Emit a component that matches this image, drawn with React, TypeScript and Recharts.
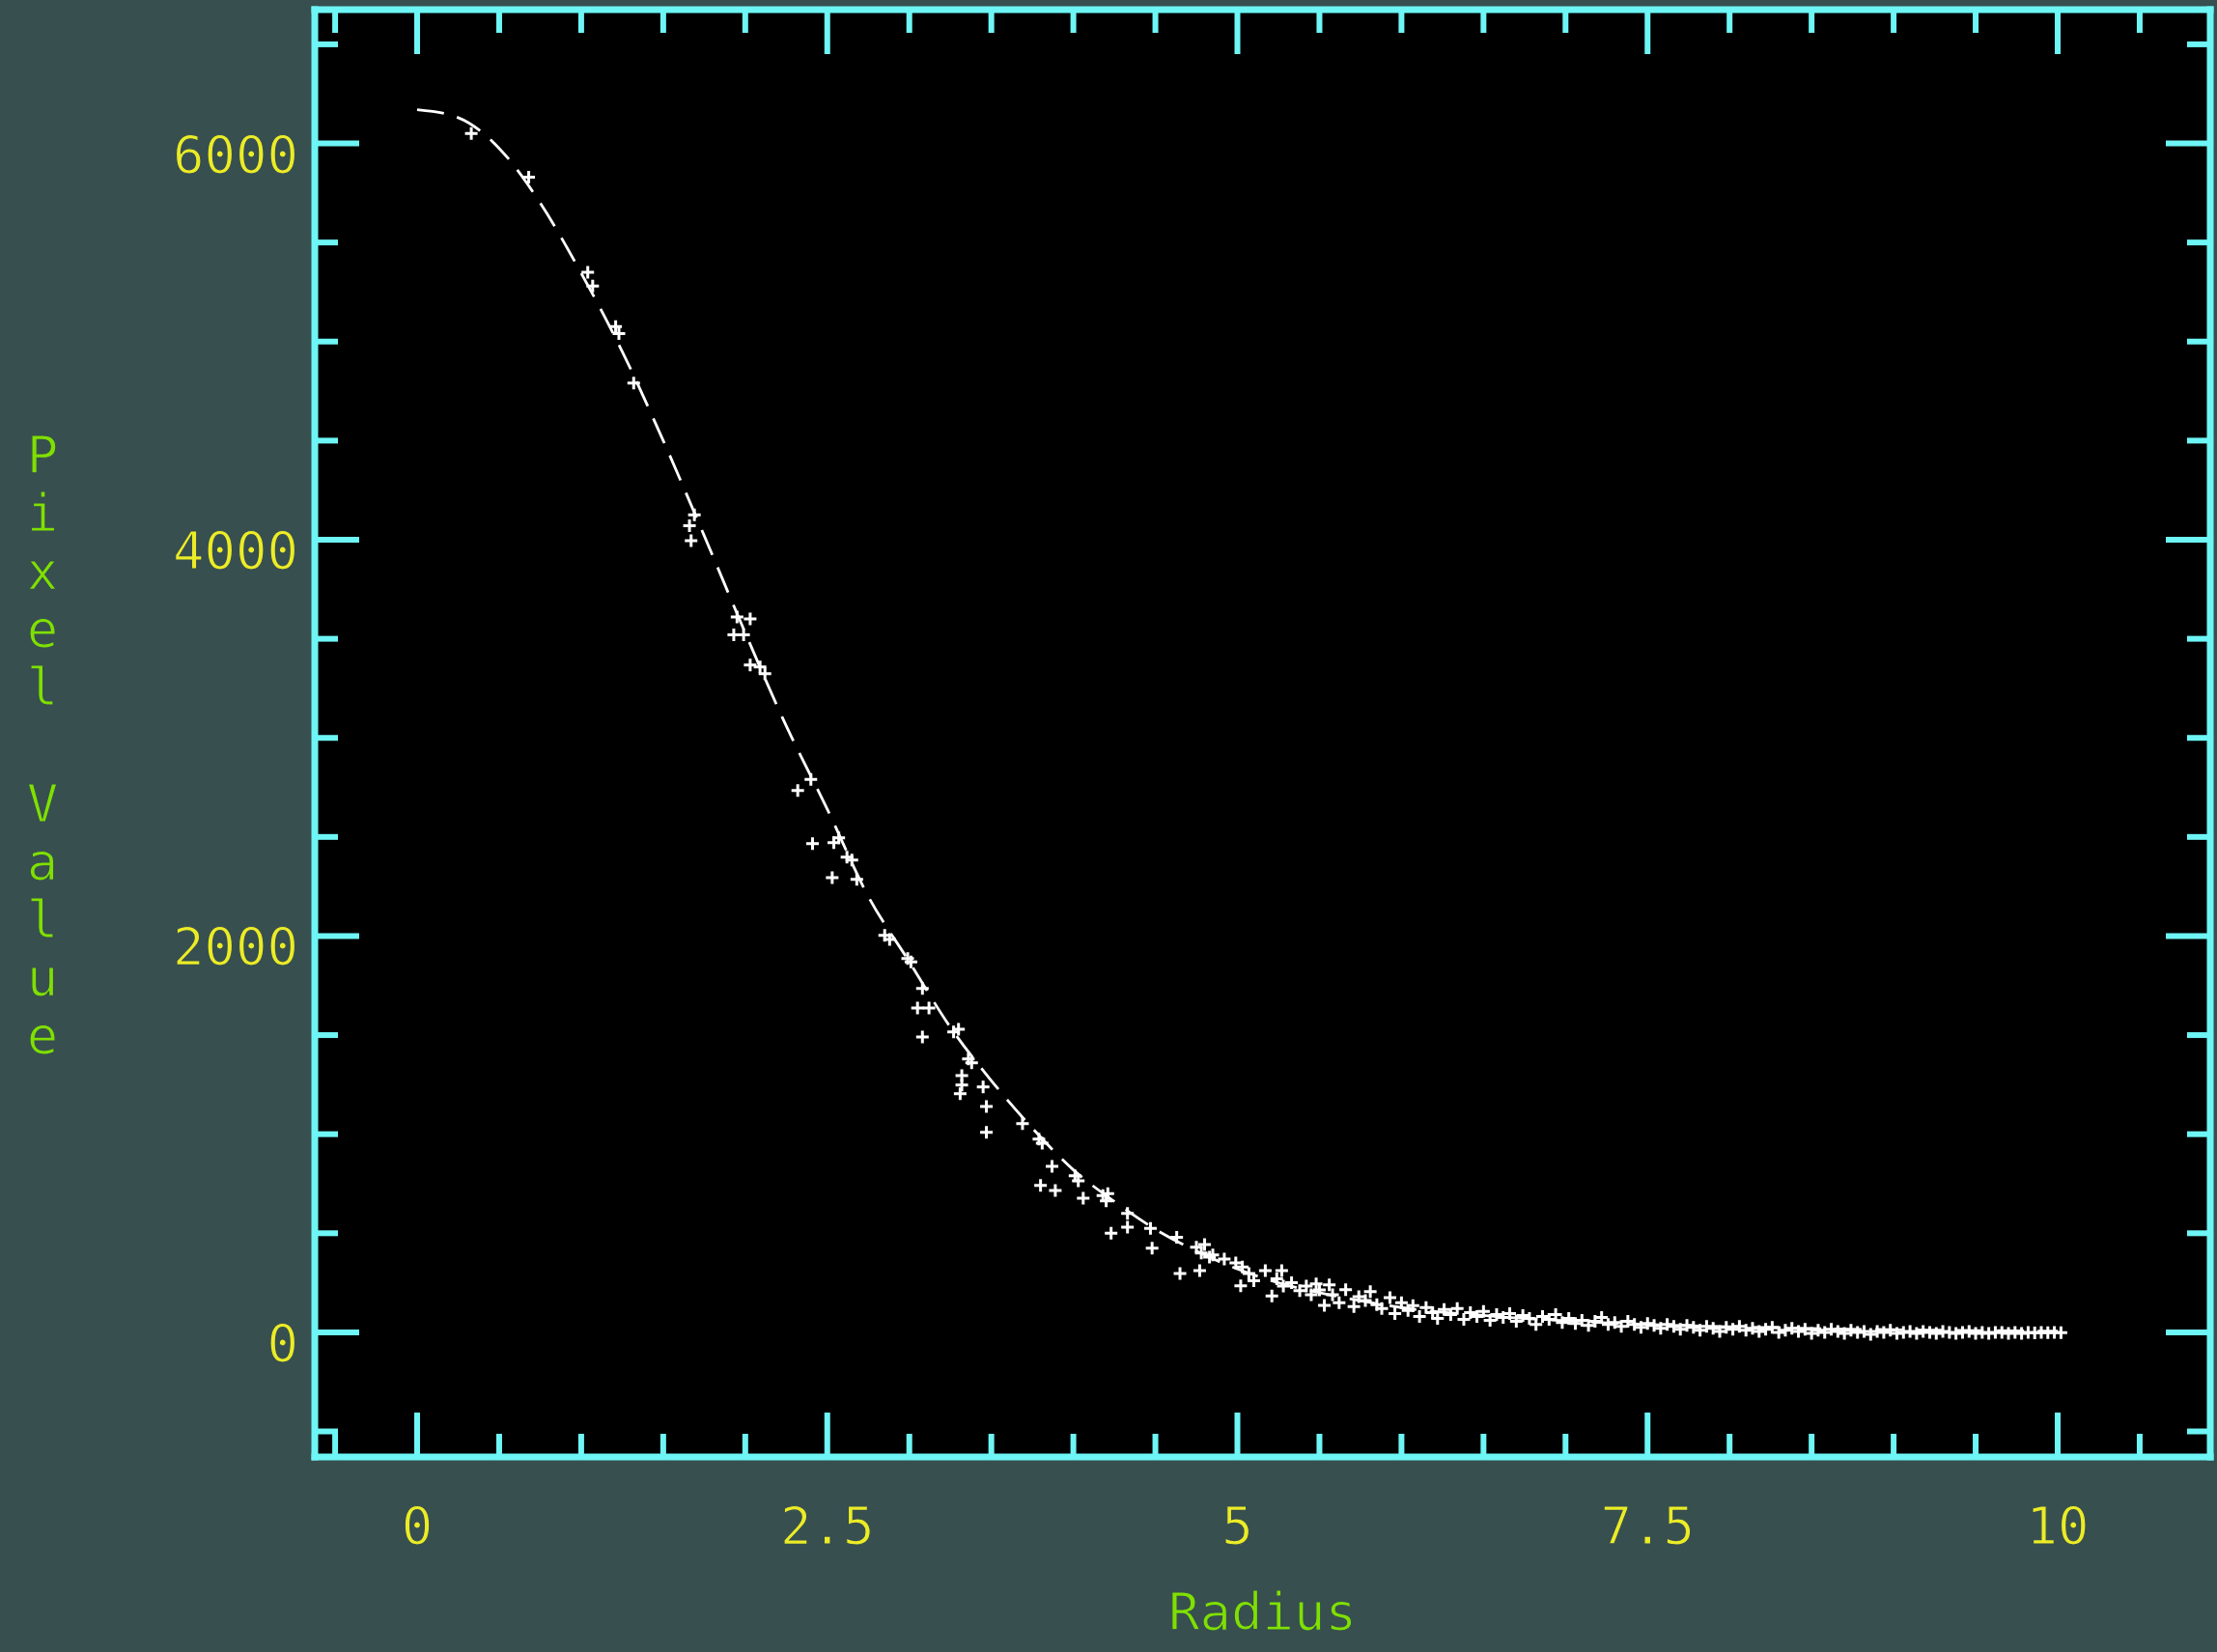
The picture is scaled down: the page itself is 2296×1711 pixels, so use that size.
import React from 'react';
import { ComposedChart, XAxis, YAxis, Line, Scatter, CartesianGrid, Label } from 'recharts';

// ---------- data ----------
const xTicks = [-0.5, 0, 0.5, 1, 1.5, 2, 2.5, 3, 3.5, 4, 4.5, 5, 5.5, 6, 6.5, 7, 7.5, 8, 8.5, 9, 9.5, 10, 10.5];
const xMajorTicks = [0, 2.5, 5, 7.5, 10];
const xTickLabels = ['0', '2.5', '5', '7.5', '10'];
const yTicks = [-500, 0, 500, 1000, 1500, 2000, 2500, 3000, 3500, 4000, 4500, 5000, 5500, 6000, 6500];
const yMajorTicks = [0, 2000, 4000, 6000];
const yTickLabels = ['0', '2000', '4000', '6000'];

const xTitle = 'Radius';
const yTitle = 'Pixel Value';

// fitted profile (radius, value)
const curveRadius = [0, 0.25, 0.5, 0.75, 1.0, 1.25, 1.5, 1.75, 2.0, 2.25, 2.5, 2.75, 3.0, 3.25, 3.5, 3.75, 4.0, 4.25, 4.5, 4.75, 5.0, 5.25, 5.5, 5.75, 6.0, 6.5, 7.0, 7.5, 8.0, 8.5, 9.0, 9.5, 10.0];
const curveValue = [6170, 6130, 5975, 5700, 5345, 4950, 4500, 4020, 3530, 3060, 2640, 2200, 1870, 1540, 1270, 1030, 820, 660, 520, 410, 320, 250, 200, 160, 125, 85, 58, 40, 28, 19, 13, 9, 6];

// measured pixels (radius, value)
const innerPoints: [number, number][] = [
  [0.33, 6050], [0.68, 5830], [1.04, 5350], [1.07, 5280], [1.21, 5075], [1.23, 5040], [1.32, 4790],
  [1.66, 4070], [1.67, 3995], [1.69, 4125], [1.95, 3610], [2.03, 3600], [1.93, 3520], [1.99, 3520],
  [2.03, 3368], [2.09, 3358], [2.12, 3324], [2.32, 2734], [2.40, 2790], [2.41, 2466], [2.54, 2471],
  [2.57, 2495], [2.62, 2398], [2.65, 2383], [2.53, 2295], [2.68, 2286], [2.85, 2003], [2.88, 1983],
  [2.99, 1886], [3.01, 1870], [3.08, 1735], [3.05, 1637], [3.12, 1637], [3.08, 1491],
];
const midPoints: [number, number][] = [
  [3.27, 1516], [3.30, 1530], [3.36, 1380], [3.38, 1360], [3.32, 1296], [3.32, 1248], [3.31, 1204],
  [3.45, 1238], [3.47, 1140], [3.47, 1009], [3.69, 1053], [3.79, 975], [3.81, 955], [3.87, 838],
  [3.80, 741], [3.89, 716], [4.01, 790], [4.03, 765], [4.06, 677], [4.18, 690], [4.20, 663],
  [4.21, 700], [4.33, 600], [4.33, 531], [4.23, 500], [4.47, 524], [4.48, 425], [4.63, 480],
  [4.65, 297], [4.75, 430], [4.77, 312], [4.78, 400], [4.80, 443], [4.83, 380], [4.85, 390],
  [4.92, 370], [4.99, 350], [5.03, 330], [5.02, 235], [5.07, 297], [5.10, 260], [5.17, 312],
  [5.21, 183], [5.24, 270], [5.27, 312], [5.28, 234], [5.33, 250], [5.38, 210], [5.42, 234],
  [5.45, 190], [5.50, 214], [5.53, 136], [5.56, 239], [5.48, 245],
];
const tailPoints: [number, number][] = [
  [5.58, 190], [5.62, 150], [5.66, 215], [5.71, 130], [5.74, 180], [5.78, 160], [5.81, 205], [5.85, 140],
  [5.88, 120], [5.93, 175], [5.96, 95], [6.00, 150], [6.04, 110], [6.07, 135], [6.11, 80], [6.15, 125],
  [6.19, 100], [6.22, 70], [6.26, 115], [6.30, 90], [6.34, 120], [6.38, 65], [6.42, 100], [6.46, 80],
  [6.50, 105], [6.54, 60], [6.58, 90], [6.62, 75], [6.66, 95], [6.70, 55], [6.74, 85], [6.78, 70],
  [6.82, 40], [6.86, 80], [6.90, 65], [6.94, 90], [6.98, 50], [7.02, 70], [7.06, 45], [7.10, 60],
  [7.14, 35], [7.18, 55], [7.22, 75], [7.26, 40], [7.30, 50], [7.34, 30], [7.38, 55], [7.42, 40],
  [7.46, 25], [7.50, 45], [7.54, 35], [7.58, 20], [7.62, 40], [7.66, 30], [7.70, 15], [7.74, 35],
  [7.78, 25], [7.82, 10], [7.86, 30], [7.90, 20], [7.94, 5], [7.98, 25], [8.02, 15], [8.06, 30],
  [8.10, 10], [8.14, 20], [8.18, 5], [8.22, 15], [8.26, 25], [8.30, 0], [8.34, 10], [8.38, 20],
  [8.42, 5], [8.46, 15], [8.50, -5], [8.54, 10], [8.58, 0], [8.62, 15], [8.66, 5], [8.70, -5],
  [8.74, 10], [8.78, 0], [8.82, 5], [8.86, -10], [8.90, 5], [8.94, 0], [8.98, 10], [9.02, -5],
  [9.06, 0], [9.10, 5], [9.14, -5], [9.18, 5], [9.22, 0], [9.26, -5], [9.30, 5], [9.34, 0],
  [9.38, -5], [9.42, 0], [9.46, 5], [9.50, -5], [9.54, 0], [9.58, -5], [9.62, 0], [9.66, 0],
  [9.70, -5], [9.74, 0], [9.78, -5], [9.82, 0], [9.86, -3], [9.90, 0], [9.94, -2], [9.98, 0], [10.02, -2],
];

// ---------- derived tables ----------
const curveData = curveRadius.map((x, i) => ({ x, v: curveValue[i] }));
const pointData = [...innerPoints, ...midPoints, ...tailPoints].map(([x, v]) => ({ x, v }));

// ---------- styling ----------
const W = 2296;
const H = 1711;
const BG = '#374f4f';
const CYAN = '#6ef5f5';
const YELLOW = '#ecec26';
const GREEN = '#7fe000';
const FONT = '"DejaVu Sans Mono", monospace';
const FS = 54;
const MAJOR_LEN = 46;
const MINOR_LEN = 24;
const TICK_W = 6;
const TEXT_THIN = { stroke: BG, strokeWidth: 1.2 };

const isMajor = (v: number, list: number[]) => list.some((m) => Math.abs(m - v) < 1e-9);

const BottomTick = (props: any) => {
  const { x, y, payload } = props;
  const v = payload.value;
  const major = isMajor(v, xMajorTicks);
  const idx = xMajorTicks.findIndex((m) => Math.abs(m - v) < 1e-9);
  return (
    <g>
      <line x1={x} x2={x} y1={y} y2={y - (major ? MAJOR_LEN : MINOR_LEN)} stroke={CYAN} strokeWidth={TICK_W} />
      {major && (
        <text x={x} y={y + 90} textAnchor="middle" fill={YELLOW} fontFamily={FONT} fontSize={FS} {...TEXT_THIN}>
          {xTickLabels[idx]}
        </text>
      )}
    </g>
  );
};

const TopTick = (props: any) => {
  const { x, y, payload } = props;
  const major = isMajor(payload.value, xMajorTicks);
  return <line x1={x} x2={x} y1={y} y2={y + (major ? MAJOR_LEN : MINOR_LEN)} stroke={CYAN} strokeWidth={TICK_W} />;
};

const LeftTick = (props: any) => {
  const { x, y, payload } = props;
  const v = payload.value;
  const major = isMajor(v, yMajorTicks);
  const idx = yMajorTicks.findIndex((m) => Math.abs(m - v) < 1e-9);
  return (
    <g>
      <line x1={x} x2={x + (major ? MAJOR_LEN : MINOR_LEN)} y1={y} y2={y} stroke={CYAN} strokeWidth={TICK_W} />
      {major && (
        <text x={x - 17} y={y + 30} textAnchor="end" fill={YELLOW} fontFamily={FONT} fontSize={FS} {...TEXT_THIN}>
          {yTickLabels[idx]}
        </text>
      )}
    </g>
  );
};

const RightTick = (props: any) => {
  const { x, y, payload } = props;
  const major = isMajor(payload.value, yMajorTicks);
  return <line x1={x} x2={x - (major ? MAJOR_LEN : MINOR_LEN)} y1={y} y2={y} stroke={CYAN} strokeWidth={TICK_W} />;
};

const PlusShape = (props: any) => {
  const { cx, cy } = props;
  if (cx == null || cy == null) return <g />;
  const s = 6.5;
  return (
    <path
      d={`M${cx - s},${cy}H${cx + s}M${cx},${cy - s}V${cy + s}`}
      stroke="#ffffff"
      strokeWidth={3}
      fill="none"
    />
  );
};

const XTitle = (props: any) => {
  const vb = props.viewBox || { x: 326, y: 1509, width: 1963, height: 202 };
  return (
    <text x={vb.x + vb.width / 2} y={vb.y + 179} textAnchor="middle" fill={GREEN} fontFamily={FONT} fontSize={FS} {...TEXT_THIN}>
      {xTitle}
    </text>
  );
};

const YTitle = (props: any) => {
  const vb = props.viewBox || { x: 0, y: 10, width: 326, height: 1499 };
  const chars = yTitle.split('');
  const mid = (chars.length - 1) / 2;
  const cy = vb.y + vb.height / 2 + 31;
  return (
    <g>
      {chars.map((c, i) => (
        <text
          key={i}
          x={44}
          y={cy + (i - mid) * 60.1}
          textAnchor="middle"
          fill={GREEN}
          fontFamily={FONT}
          fontSize={FS}
          {...TEXT_THIN}
        >
          {c}
        </text>
      ))}
    </g>
  );
};

export default function App() {
  const axisLine = { stroke: CYAN, strokeWidth: 7, strokeLinecap: 'square' as const };
  const xDomain: [number, number] = [-0.624, 10.93];
  const yDomain: [number, number] = [-629, 6675];
  return (
    <div style={{ position: 'absolute', left: 0, top: 0, width: W, height: H, background: BG }}>
      <ComposedChart
        width={W}
        height={H}
        margin={{ top: 0, right: 0, bottom: 0, left: 0 }}
        style={{ background: BG }}
      >
        <CartesianGrid horizontal={false} vertical={false} fill="#000000" fillOpacity={1} stroke="none" xAxisId="bottom" yAxisId="left" />
        <XAxis
          xAxisId="bottom"
          orientation="bottom"
          type="number"
          dataKey="x"
          domain={xDomain}
          allowDataOverflow
          ticks={xTicks}
          interval={0}
          height={202}
          tickSize={0}
          tickMargin={0}
          tickLine={false}
          axisLine={axisLine}
          tick={<BottomTick />}
        >
          <Label content={<XTitle />} />
        </XAxis>
        <XAxis
          xAxisId="top"
          orientation="top"
          type="number"
          dataKey="x"
          domain={xDomain}
          allowDataOverflow
          ticks={xTicks}
          interval={0}
          height={10}
          tickSize={0}
          tickMargin={0}
          tickLine={false}
          axisLine={axisLine}
          tick={<TopTick />}
        />
        <YAxis
          yAxisId="left"
          orientation="left"
          type="number"
          domain={yDomain}
          allowDataOverflow
          ticks={yTicks}
          interval={0}
          width={326}
          tickSize={0}
          tickMargin={0}
          tickLine={false}
          axisLine={axisLine}
          tick={<LeftTick />}
        >
          <Label content={<YTitle />} />
        </YAxis>
        <YAxis
          yAxisId="right"
          orientation="right"
          type="number"
          domain={yDomain}
          allowDataOverflow
          ticks={yTicks}
          interval={0}
          width={7}
          tickSize={0}
          tickMargin={0}
          tickLine={false}
          axisLine={axisLine}
          tick={<RightTick />}
        />
        <Line
          xAxisId="bottom"
          yAxisId="left"
          data={curveData}
          dataKey="v"
          type="monotone"
          stroke="#ffffff"
          strokeWidth={2.8}
          strokeDasharray="28 14"
          dot={false}
          activeDot={false}
          isAnimationActive={false}
        />
        <Scatter
          xAxisId="bottom"
          yAxisId="left"
          data={pointData}
          dataKey="v"
          shape={<PlusShape />}
          isAnimationActive={false}
        />
      </ComposedChart>
    </div>
  );
}
